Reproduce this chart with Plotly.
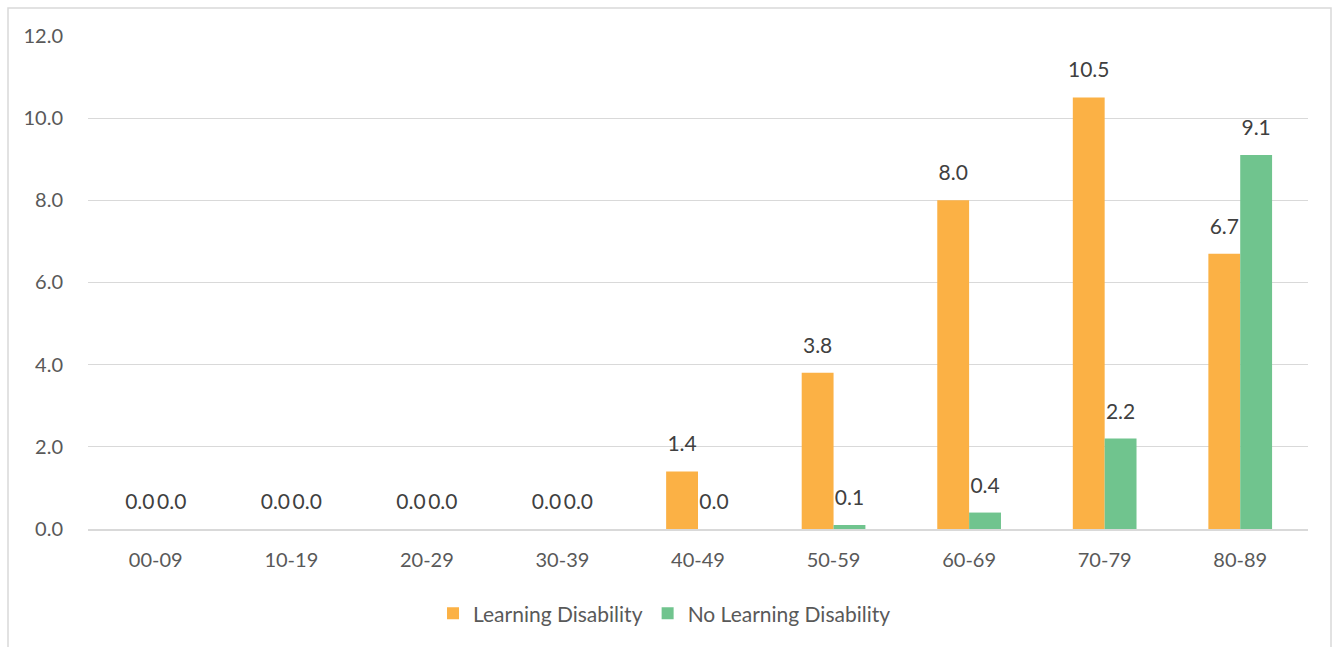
import plotly.graph_objects as go

categories = ["00-09", "10-19", "20-29", "30-39", "40-49", "50-59", "60-69", "70-79", "80-89"]
learning_disability = [0.0, 0.0, 0.0, 0.0, 1.4, 3.8, 8.0, 10.5, 6.7]
no_learning_disability = [0.0, 0.0, 0.0, 0.0, 0.0, 0.1, 0.4, 2.2, 9.1]
y_ticks = [0, 2, 4, 6, 8, 10, 12]

FONT = "Lato"
TXT = "#404040"
FS = 20
ORANGE = "#FBB145"
GREEN = "#70C48E"

fig = go.Figure()
series = [("Learning Disability", learning_disability, ORANGE, "a"),
          ("No Learning Disability", no_learning_disability, GREEN, "b")]
for name, vals, col, grp in series:
    fig.add_trace(go.Bar(
        x=categories, y=vals, name=name, offsetgroup=grp,
        marker=dict(color=col, line=dict(width=0)),
    ))
for name, vals, col, grp in series:
    fig.add_trace(go.Scatter(
        x=categories, y=vals, mode="markers+text", offsetgroup=grp,
        text=[f"{v:.1f}" for v in vals], textposition="top center",
        marker=dict(size=22, color="rgba(0,0,0,0)"),
        textfont=dict(family=FONT, size=21, color=TXT),
        showlegend=False, hoverinfo="skip", cliponaxis=False,
    ))

pw, ph = 1220, 494
fig.add_shape(type="rect", xref="paper", yref="paper",
              x0=(8 - 88) / pw, x1=(1331 - 88) / pw,
              y0=(529 - 660) / ph, y1=(529 - 8) / ph,
              line=dict(color="#D9D9D9", width=1.5), fillcolor="rgba(0,0,0,0)", layer="below")

fig.update_layout(
    width=1340, height=647,
    margin=dict(l=88, r=32, t=35, b=118, autoexpand=False),
    paper_bgcolor="white", plot_bgcolor="white",
    barmode="group", bargap=0.53, bargroupgap=0,
    scattermode="group", scattergap=0.53,
    font=dict(family=FONT, size=FS, color="#595959"),
    showlegend=True,
    legend=dict(orientation="h", x=0.2828, xanchor="left", y=-0.13, yanchor="top",
                font=dict(family=FONT, size=21, color="#595959"),
                traceorder="normal"),
    xaxis=dict(type="category", showgrid=False, showline=True, linecolor="#D9D9D9", linewidth=2,
               ticks="", tickfont=dict(family=FONT, size=FS, color="#595959"),
               ticklabelstandoff=12),
    yaxis=dict(range=[0, 12.02], tickvals=y_ticks, tickformat=".1f",
               showgrid=True, gridcolor="#D9D9D9", gridwidth=1,
               zeroline=False, showline=False, ticks="",
               tickfont=dict(family=FONT, size=FS, color="#595959"),
               ticklabelstandoff=24),
)

fig.write_html("out.html", config={"displayModeBar": False},
               post_script="document.body.style.margin='0';document.body.style.padding='0';")
